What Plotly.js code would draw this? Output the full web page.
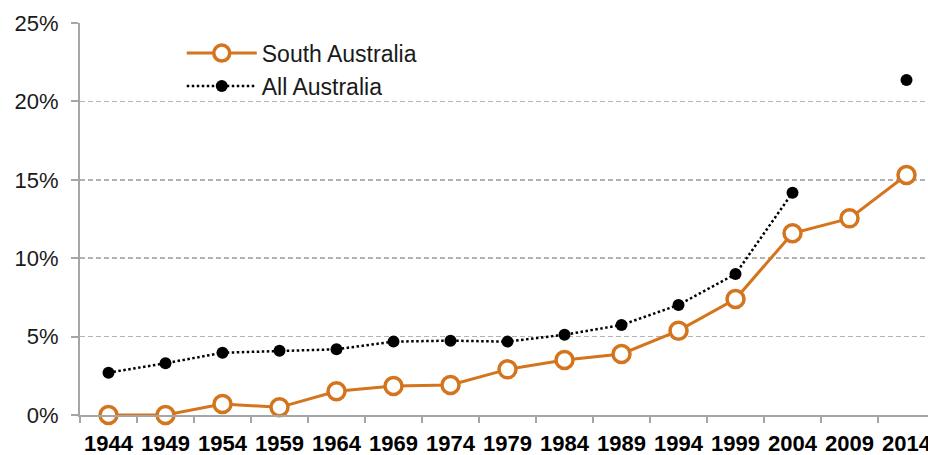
<!DOCTYPE html>
<html><head><meta charset="utf-8">
<script src="https://cdn.plot.ly/plotly-3.0.1.min.js"></script>
<style>html,body{margin:0;padding:0;background:#fff}#chart{width:928px;height:455px}</style>
</head><body><div id="chart"></div>
<script>
const years = ['1944','1949','1954','1959','1964','1969','1974','1979','1984','1989','1994','1999','2004','2009','2014'];
const southAustralia = [0.0, 0.0, 0.70, 0.49, 1.51, 1.85, 1.91, 2.91, 3.51, 3.89, 5.38, 7.40, 11.59, 12.54, 15.31];
const allAustralia = [2.70, 3.30, 3.97, 4.10, 4.19, 4.68, 4.74, 4.68, 5.12, 5.74, 7.02, 8.99, 14.18, null, 21.36];
const yTicks = [0, 5, 10, 15, 20, 25];
const yTickLabels = ['0%', '5%', '10%', '15%', '20%', '25%'];

const orange = '#D4741C';
const traces = [
  {x: years, y: southAustralia, name: 'South Australia', type: 'scatter', mode: 'lines+markers',
   line: {color: orange, width: 3}, cliponaxis: false,
   marker: {symbol: 'circle', size: 17, color: '#ffffff', line: {color: orange, width: 3.5}}},
  {x: years, y: allAustralia, name: 'All Australia', type: 'scatter', mode: 'lines+markers',
   connectgaps: false, cliponaxis: false,
   line: {color: '#000000', width: 2.5, dash: '2.5px,2.5px'},
   marker: {symbol: 'circle', size: 12, color: '#000000'}}
];
const layout = {
  width: 928, height: 455,
  margin: {l: 80, r: 0, t: 23, b: 40, pad: 0},
  paper_bgcolor: '#ffffff', plot_bgcolor: '#ffffff',
  font: {family: 'Liberation Sans, Arial, sans-serif', color: '#1a1a1a'},
  showlegend: true,
  legend: {x: 0.12, y: 0.978, xanchor: 'left', yanchor: 'top', bgcolor: 'rgba(0,0,0,0)',
           font: {size: 23, color: '#1a1a1a'}, itemwidth: 70, tracegroupgap: 0},
  xaxis: {type: 'category', range: [-0.5, 14.377], showgrid: false, zeroline: false,
          showline: true, linecolor: '#a6a6a6', linewidth: 2, tickangle: 0,
          ticks: 'outside', tickson: 'boundaries', ticklen: 6, tickcolor: '#a6a6a6', tickwidth: 2,
          ticklabelstandoff: 8,
          tickfont: {size: 22, color: '#000000', family: 'Liberation Sans, Arial, sans-serif', weight: 'bold'},
          fixedrange: true},
  yaxis: {range: [0, 25], tickvals: yTicks, ticktext: yTickLabels, showgrid: true,
          gridcolor: '#b3b3b3', gridwidth: 1.5, griddash: '5px,3px', zeroline: false,
          showline: true, linecolor: '#a6a6a6', linewidth: 2,
          ticks: 'outside', ticklen: 7, tickcolor: '#a6a6a6', tickwidth: 2,
          ticklabelstandoff: 8,
          tickfont: {size: 22, color: '#1a1a1a'}, fixedrange: true}
};
Plotly.newPlot('chart', traces, layout, {displayModeBar: false, staticPlot: true});
</script></body></html>
